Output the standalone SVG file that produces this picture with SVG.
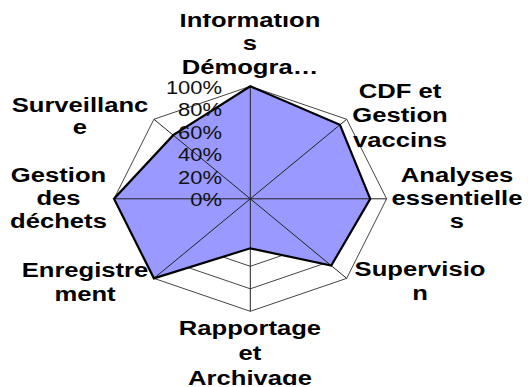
<svg xmlns="http://www.w3.org/2000/svg" width="528" height="387" viewBox="0 0 528 387">
<style>
.lbl{font-family:"Liberation Sans",Arial,sans-serif;font-weight:bold;font-size:21px;fill:#000;text-anchor:middle}
.tick{font-family:"Liberation Sans",Arial,sans-serif;font-size:18px;fill:#111;text-anchor:end}
.ring{fill:none;stroke:#444;stroke-width:1}
.spoke{stroke:#222;stroke-width:1}
</style>
<defs>
<clipPath id="clip"><rect x="0" y="14" width="528" height="371"/></clipPath>
</defs>
<rect width="528" height="387" fill="#fff"/>
<g id="grid">
<polygon class="ring" points="250.3,86.3 346.68,119.25 386.6,198.8 346.68,278.35 250.3,311.3 153.92,278.35 114,198.8 153.92,119.25"/>
<polygon class="ring" points="250.3,108.8 327.4,135.16 359.34,198.8 327.4,262.44 250.3,288.8 173.2,262.44 141.26,198.8 173.2,135.16"/>
<polygon class="ring" points="250.3,131.3 308.13,151.07 332.08,198.8 308.13,246.53 250.3,266.3 192.47,246.53 168.52,198.8 192.47,151.07"/>
<polygon class="ring" points="250.3,153.8 288.85,166.98 304.82,198.8 288.85,230.62 250.3,243.8 211.75,230.62 195.78,198.8 211.75,166.98"/>
<polygon class="ring" points="250.3,176.3 269.58,182.89 277.56,198.8 269.58,214.71 250.3,221.3 231.02,214.71 223.04,198.8 231.02,182.89"/>
</g>
<g id="series-fill">
<polygon points="250.3,86.3 339.93,124.82 370.24,198.8 331.26,265.62 250.3,248.3 153.92,278.35 114,198.8 173.2,135.16" fill="#9999ff" stroke="none"/>
</g>
<g id="connectors">
<line class="spoke" x1="250.3" y1="198.8" x2="250.3" y2="86.3"/>
<line class="spoke" x1="250.3" y1="198.8" x2="346.68" y2="119.25"/>
<line class="spoke" x1="250.3" y1="198.8" x2="386.6" y2="198.8"/>
<line class="spoke" x1="250.3" y1="198.8" x2="346.68" y2="278.35"/>
<line class="spoke" x1="250.3" y1="198.8" x2="250.3" y2="311.3"/>
<line class="spoke" x1="250.3" y1="198.8" x2="153.92" y2="278.35"/>
<line class="spoke" x1="250.3" y1="198.8" x2="114" y2="198.8"/>
<line class="spoke" x1="250.3" y1="198.8" x2="153.92" y2="119.25"/>
</g>
<g id="series-line">
<polygon points="250.3,86.3 339.93,124.82 370.24,198.8 331.26,265.62 250.3,248.3 153.92,278.35 114,198.8 173.2,135.16" fill="none" stroke="#000" stroke-width="2.2" stroke-linejoin="miter"/>
</g>
<g id="ticks">
<text class="tick" transform="translate(222,94.3) scale(1.22,1)">100%</text>
<text class="tick" transform="translate(222,116.3) scale(1.22,1)">80%</text>
<text class="tick" transform="translate(222,138.8) scale(1.22,1)">60%</text>
<text class="tick" transform="translate(222,161.3) scale(1.22,1)">40%</text>
<text class="tick" transform="translate(222,183.8) scale(1.22,1)">20%</text>
<text class="tick" transform="translate(222,206.3) scale(1.22,1)">0%</text>
</g>
<g clip-path="url(#clip)">
<g id="n-informations"><text class="lbl" transform="translate(250,26.5) scale(1.22,1)"><tspan x="0" y="0">Information</tspan><tspan x="0" y="24">s</tspan><tspan x="0" y="48">Démogra…</tspan></text></g>
<g id="n-cdf"><text class="lbl" transform="translate(400,98) scale(1.22,1)"><tspan x="0" y="0">CDF et</tspan><tspan x="0" y="24.5">Gestion</tspan><tspan x="0" y="49">vaccins</tspan></text></g>
<g id="n-analyses"><text class="lbl" transform="translate(457,181.5) scale(1.22,1)"><tspan x="0" y="0">Analyses</tspan><tspan x="0" y="23.5">essentielle</tspan><tspan x="0" y="47">s</tspan></text></g>
<g id="n-supervision"><text class="lbl" transform="translate(420,276) scale(1.22,1)"><tspan x="0" y="0">Supervisio</tspan><tspan x="0" y="24.5">n</tspan></text></g>
<g id="n-rapportage"><text class="lbl" transform="translate(250,335) scale(1.22,1)"><tspan x="0" y="0">Rapportage</tspan><tspan x="0" y="25">et</tspan><tspan x="0" y="50">Archivage</tspan></text></g>
<g id="n-enregistrement"><text class="lbl" transform="translate(85,277) scale(1.22,1)"><tspan x="0" y="0">Enregistre</tspan><tspan x="0" y="24">ment</tspan></text></g>
<g id="n-dechets"><text class="lbl" transform="translate(58.5,181.5) scale(1.22,1)"><tspan x="0" y="0">Gestion</tspan><tspan x="0" y="23.5">des</tspan><tspan x="0" y="47">déchets</tspan></text></g>
<g id="n-surveillance"><text class="lbl" transform="translate(80,111.5) scale(1.22,1)"><tspan x="0" y="0">Surveillanc</tspan><tspan x="0" y="23">e</tspan></text></g>
</g>
</svg>
